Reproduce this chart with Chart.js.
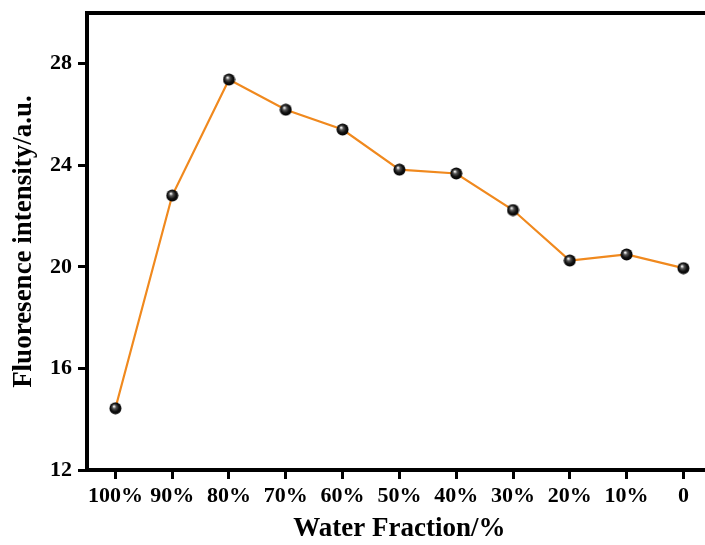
<!DOCTYPE html>
<html>
<head>
<meta charset="utf-8">
<script src="https://cdn.jsdelivr.net/npm/chart.js@4"></script>
<style>
  html, body { margin: 0; padding: 0; background: #fff; overflow: hidden; }
  #wrap { width: 705px; height: 545px; overflow: hidden; }
</style>
</head>
<body>
<div id="wrap"><canvas id="chart" width="720" height="545"></canvas></div>
<script>
// data
const fractions = ['100%', '90%', '80%', '70%', '60%', '50%', '40%', '30%', '20%', '10%', '0'];
const intensity = [14.43, 22.81, 27.38, 26.19, 25.41, 23.83, 23.68, 22.24, 20.25, 20.49, 19.95];
const yTicks = [12, 16, 20, 24, 28];

// little black ball for the markers
function makeBall() {
    const c = document.createElement('canvas');
    c.width = 13;
    c.height = 13;
    const g = c.getContext('2d');
    const grad = g.createRadialGradient(5, 4.5, 0.5, 6.5, 6.5, 6.5);
    grad.addColorStop(0, '#ececec');
    grad.addColorStop(0.25, '#555');
    grad.addColorStop(0.6, '#111');
    grad.addColorStop(1, '#000');
    g.fillStyle = grad;
    g.beginPath();
    g.arc(6.5, 6.5, 6, 0, Math.PI * 2);
    g.fill();
    return c;
}

// top and right lines of the frame
const framePlugin = {
    id: 'frame',
    afterDraw(chart) {
        const {ctx, chartArea} = chart;
        ctx.save();
        ctx.strokeStyle = '#000';
        ctx.lineWidth = 4;
        ctx.beginPath();
        ctx.moveTo(chartArea.left - 2, chartArea.top);
        ctx.lineTo(chartArea.right, chartArea.top);
        ctx.lineTo(chartArea.right, chartArea.bottom);
        ctx.stroke();
        ctx.restore();
    }
};

const tickFont = {family: '"Liberation Serif", "Times New Roman", serif', size: 22, weight: 'bold'};
const titleFont = {family: '"Liberation Serif", "Times New Roman", serif', size: 27, weight: 'bold'};

new Chart(document.getElementById('chart'), {
    type: 'line',
    data: {
        labels: fractions,
        datasets: [{
            data: intensity,
            borderColor: '#f0891e',
            borderWidth: 2.2,
            pointStyle: makeBall(),
            pointRadius: 6,
            tension: 0
        }]
    },
    options: {
        responsive: false,
        animation: false,
        layout: {padding: {left: 0, top: 13, right: 8, bottom: 0}},
        plugins: {legend: {display: false}, tooltip: {enabled: false}},
        scales: {
            x: {
                offset: true,
                afterFit(scale) {
                    scale.height = 75;
                    scale.paddingLeft = 0;
                    scale.paddingRight = 0;
                },
                grid: {drawOnChartArea: false, tickLength: 9, tickWidth: 3, tickColor: '#000', offset: false},
                border: {color: '#000', width: 4},
                ticks: {color: '#000', font: tickFont, padding: 4, maxRotation: 0, autoSkip: false},
                title: {display: true, text: 'Water Fraction/%', color: '#000', font: titleFont, padding: {top: 0, bottom: 0}}
            },
            y: {
                min: 12,
                max: 30,
                afterFit(scale) {
                    scale.width = 87;
                    scale.paddingTop = 0;
                    scale.paddingBottom = 0;
                },
                afterBuildTicks(scale) { scale.ticks = yTicks.map(v => ({value: v})); },
                grid: {drawOnChartArea: false, tickLength: 9, tickWidth: 3, tickColor: '#000'},
                border: {color: '#000', width: 4},
                ticks: {color: '#000', font: tickFont, padding: 6},
                title: {display: true, text: 'Fluoresence intensity/a.u.', color: '#000', font: titleFont, padding: {top: 8, bottom: 0}}
            }
        }
    },
    plugins: [framePlugin]
});
</script>
</body>
</html>
